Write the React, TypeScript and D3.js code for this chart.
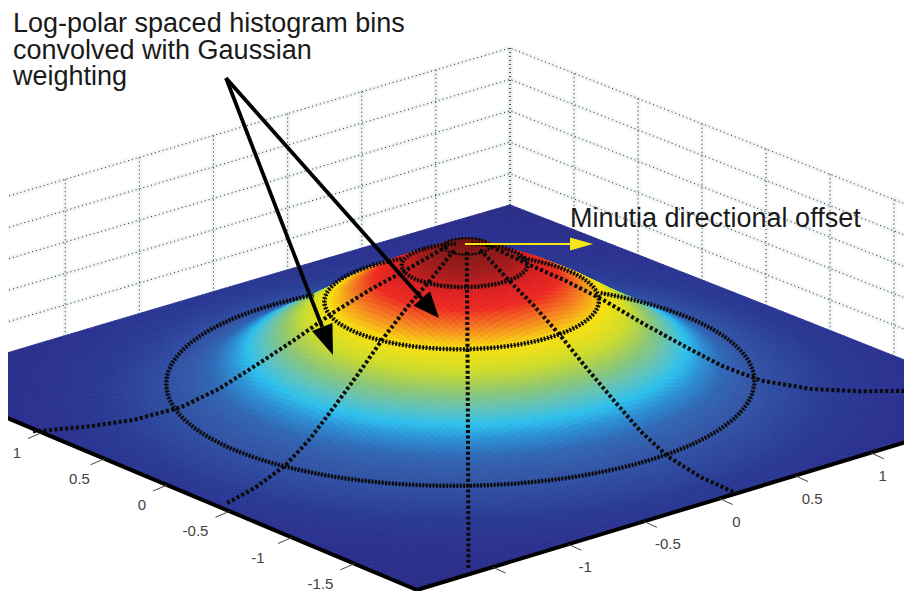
import React, { useMemo } from "react";
import * as d3 from "d3";

const W = 904;
const H = 591;

// Height of the dome read against radius from the peak
const profileRadii = [0, 0.12, 0.32, 0.5, 0.7, 0.9, 1.1, 1.3, 1.5, 1.75, 2, 3];
const profileHeights = [5.0, 4.75, 4.15, 3.65, 3.0, 2.25, 1.55, 0.88, 0.4, 0.12, 0.03, 0];

// Surface colour read against radius
const colorRadii = [0, 0.12, 0.25, 0.36, 0.47, 0.58, 0.7, 0.82, 0.94, 1.04, 1.12, 1.2, 1.3, 1.42, 1.6, 1.85, 2.2, 3];
const colorValues = ["#701414", "#861818", "#a81c1e", "#dc2022", "#ee2a22", "#f57f20", "#f8e010", "#cfdc28", "#8cc674", "#5cc2c0", "#2cc0ee", "#2c90d4", "#2f68b6", "#3458a8", "#2e4aa0", "#2a3a94", "#2b3190", "#2a2c84"];

const aTicks = [1, 0.5, 0, -0.5, -1, -1.5];
const aLabels = ["1", "0.5", "0", "-0.5", "-1", "-1.5"];
const bTicks = [1, 0.5, 0, -0.5, -1, -1.5];
const bLabels = ["1", "0.5", "0", "-0.5", "-1", ""];

const wallTicks = [-2, -1.5, -1, -0.5, 0, 0.5, 1, 1.5, 2];
const wallLevels = [1, 2, 3, 4, 5];

const ringRadii = [0.12, 0.32, 0.7, 1.5];
const ringLean = [0, -2, -5, -7];
const spokeAngles = [130, 177, 219.7, 258, 297];
const spokeLengths = [3, 2.02, 2.55, 2.02, 2.3];

const titleLines = ["Log-polar spaced histogram bins", "convolved with Gaussian", "weighting"];
const offsetLabel = "Minutia directional offset";

const unit = d3.scaleLinear().domain([-2, 2]).range([0, 1]);
const heightAt = d3.scaleLinear<number>().domain(profileRadii).range(profileHeights).clamp(true);
const colorAt = d3.scaleLinear<string>().domain(colorRadii).range(colorValues).interpolate(d3.interpolateRgb).clamp(true);
const zPx = d3.scaleLinear().domain([0, 5]).range([0, 157]);

// plane corners on the page: a=-2,b=-2 front; a=2,b=-2 left; a=-2,b=2 right; a=2,b=2 back
const front = [417, 590];
const left = [-83, 380];
const right = [1022, 407];
const back = [510, 205];

function project(a: number, b: number, z = 0): [number, number] {
  const u = unit(a);
  const v = unit(b);
  const x = (1 - u) * (1 - v) * front[0] + u * (1 - v) * left[0] + (1 - u) * v * right[0] + u * v * back[0];
  const y = (1 - u) * (1 - v) * front[1] + u * (1 - v) * left[1] + (1 - u) * v * right[1] + u * v * back[1];
  return [x, y - zPx(z)];
}
const surf = (a: number, b: number): [number, number] => project(a, b, heightAt(Math.hypot(a, b)));

// is a surface point hidden by dome nearer the viewer?
function visible(a: number, b: number, tol: number): boolean {
  const [, y0] = surf(a, b);
  for (let s = 0.05; s < 2.5; s += 0.05) {
    const [, y] = surf(a - 0.77 * s, b - 0.64 * s);
    if (y < y0 - tol) return false;
  }
  return true;
}

const line = d3.line<[number, number]>();
const wallLine = (pts: [number, number][]) => line(pts) as string;

function arrow(x0: number, y0: number, x1: number, y1: number, len: number, half: number) {
  const ang = Math.atan2(y1 - y0, x1 - x0);
  const bx = x1 - len * Math.cos(ang);
  const by = y1 - len * Math.sin(ang);
  const nx = -Math.sin(ang) * half;
  const ny = Math.cos(ang) * half;
  return { bx, by, head: `${x1},${y1} ${bx + nx},${by + ny} ${bx - nx},${by - ny}` };
}

export default function App() {
  const cells = useMemo(() => {
    const n = 150;
    const out: { d: string; c: string }[] = [];
    const grid = d3.range(n + 1).map((i) => 2 - (4 * i) / n);
    for (let i = 0; i < n; i++) {
      for (let j = 0; j < n; j++) {
        const a0 = grid[i], a1 = grid[i + 1], b0 = grid[j], b1 = grid[j + 1];
        const c = colorAt(Math.hypot((a0 + a1) / 2, (b0 + b1) / 2));
        const d = line([surf(a0, b0), surf(a1, b0), surf(a1, b1), surf(a0, b1)]) + "Z";
        out.push({ d, c });
      }
    }
    return out;
  }, []);

  const rings = useMemo(
    () =>
      ringRadii.map((r, k) => {
        const pts = d3.range(0, 361, 1.5).map((t) => {
          const a = r * Math.cos((t * Math.PI) / 180);
          const b = r * Math.sin((t * Math.PI) / 180);
          const [x, y] = surf(a, b);
          return { p: [x + ringLean[k], y] as [number, number], v: visible(a, b, 5) };
        });
        return d3
          .line<{ p: [number, number]; v: boolean }>()
          .defined((d) => d.v)
          .x((d) => d.p[0])
          .y((d) => d.p[1])(pts) as string;
      }),
    []
  );

  const spokes = useMemo(
    () =>
      spokeAngles.map((t, k) => {
        const c = Math.cos((t * Math.PI) / 180);
        const s = Math.sin((t * Math.PI) / 180);
        const pts = d3.range(0.1, spokeLengths[k], 0.02).map((r) => surf(r * c, r * s));
        return line(pts) as string;
      }),
    []
  );

  const wallStyle = { fill: "none", stroke: "#222", strokeWidth: 1, strokeDasharray: "1 3" };
  const haloStyle = { fill: "none", stroke: "#cfdde4", strokeWidth: 5, opacity: 0.28 };
  const wallPaths: string[] = [];
  wallTicks.forEach((t) => {
    wallPaths.push(wallLine([project(2, t, 0), project(2, t, 5)]));
    wallPaths.push(wallLine([project(t, 2, 0), project(t, 2, 5)]));
  });
  wallLevels.forEach((z) => {
    wallPaths.push(wallLine([project(2, -2, z), project(2, 2, z), project(-2, 2, z)]));
  });

  const arrowA = arrow(226, 78, 333, 355, 30, 11);
  const arrowB = arrow(226, 78, 439, 318, 26, 11);
  const arrowY = arrow(465, 244, 593, 244, 23, 6.5);

  return (
    <svg width={W} height={H} viewBox={`0 0 ${W} ${H}`} style={{ position: "absolute", left: 0, top: 0, background: "#fff" }}>
      <defs>
        <clipPath id="plot">
          <rect x={8} y={0} width={W - 8} height={H} />
        </clipPath>
      </defs>
      <g clipPath="url(#plot)">
        {wallPaths.map((d, i) => (
          <path key={"h" + i} d={d} style={haloStyle} />
        ))}
        {wallPaths.map((d, i) => (
          <path key={"w" + i} d={d} style={wallStyle} />
        ))}
        {cells.map((c, i) => (
          <path key={i} d={c.d} fill={c.c} stroke={c.c} strokeWidth={0.8} />
        ))}
        <path d={wallLine([project(2, -2), project(-2, -2), project(-2, 2)])} fill="none" stroke="#000" strokeWidth={4} />
        {aTicks.map((t) => {
          const [x, y] = project(t, -2);
          return <line key={"at" + t} x1={x} y1={y} x2={x - 14} y2={y + 6} stroke="#444" strokeWidth={1} />;
        })}
        {bTicks.map((t) => {
          const [x, y] = project(-2, t);
          return <line key={"bt" + t} x1={x} y1={y} x2={x + 13} y2={y + 6} stroke="#444" strokeWidth={1} />;
        })}
        {aTicks.map((t, i) => {
          const [x, y] = project(t, -2);
          return (
            <text key={"al" + t} x={x - (t < 0 ? 34 : 25)} y={y + 25} textAnchor="middle" fontFamily="Liberation Sans" fontSize={15} fill="#444">
              {aLabels[i]}
            </text>
          );
        })}
        {bTicks.map((t, i) => {
          const [x, y] = project(-2, t);
          return (
            <text key={"bl" + t} x={x + (t === -0.5 ? 24 : t === 1 ? 12 : 17)} y={y + 28} textAnchor="middle" fontFamily="Liberation Sans" fontSize={15} fill="#444">
              {bLabels[i]}
            </text>
          );
        })}
        {spokes.map((d, i) => (
          <path key={"s" + i} d={d} fill="none" stroke="#0a0a0a" strokeWidth={4} strokeDasharray="3 2.4" />
        ))}
        {rings.map((d, i) => (
          <g key={"r" + i}>
            <path d={d} fill="none" stroke="#111" strokeWidth={0.8} />
            <path d={d} fill="none" stroke="#0a0a0a" strokeWidth={i === 0 ? 2.5 : 4.5} strokeDasharray="1.8 1.6" />
          </g>
        ))}
      </g>
      <line x1={226} y1={78} x2={arrowA.bx} y2={arrowA.by} stroke="#000" strokeWidth={3.8} />
      <polygon points={arrowA.head} fill="#000" />
      <line x1={226} y1={78} x2={arrowB.bx} y2={arrowB.by} stroke="#000" strokeWidth={3.8} />
      <polygon points={arrowB.head} fill="#000" />
      <line x1={465} y1={244} x2={arrowY.bx} y2={arrowY.by} stroke="#f5e616" strokeWidth={2.2} />
      <polygon points={arrowY.head} fill="#f5e616" />
      <g fontFamily="Liberation Sans" fontSize={27} fill="#1a1a1a">
        {titleLines.map((t, i) => (
          <text key={t} x={13} y={32 + i * 26.5}>
            {t}
          </text>
        ))}
        <text x={570} y={227}>
          {offsetLabel}
        </text>
      </g>
    </svg>
  );
}
